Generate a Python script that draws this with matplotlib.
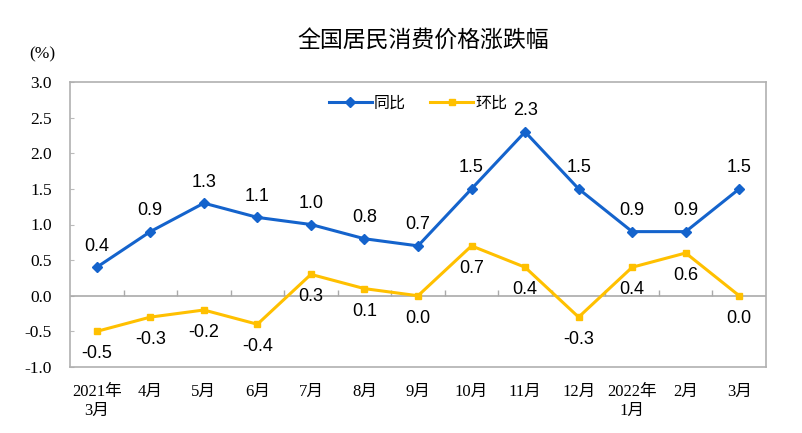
import matplotlib.pyplot as plt

plt.rcParams['font.family'] = ['Liberation Serif', 'Noto Sans CJK SC']

# dados
meses = ['2021年\n3月', '4月', '5月', '6月', '7月', '8月', '9月', '10月', '11月',
         '12月', '2022年\n1月', '2月', '3月']
tongbi = [0.4, 0.9, 1.3, 1.1, 1.0, 0.8, 0.7, 1.5, 2.3, 1.5, 0.9, 0.9, 1.5]
huanbi = [-0.5, -0.3, -0.2, -0.4, 0.3, 0.1, 0.0, 0.7, 0.4, -0.3, 0.4, 0.6, 0.0]

azul = '#1463cc'
amarelo = '#ffc000'

fig = plt.figure(figsize=(8.02, 4.33), dpi=100)
ax = fig.add_axes([70 / 802, 1 - 367 / 433, 696 / 802, 285 / 433])

x = list(range(len(meses)))
ax.plot(x, tongbi, color=azul, lw=2.2, marker='D', ms=5, label='同比', zorder=3)
ax.plot(x, huanbi, color=amarelo, lw=2.2, marker='s', ms=5, label='环比', zorder=3)

# rotulos dos pontos
for i, v in enumerate(tongbi):
    ax.annotate(f'{v:.1f}', (i, v), xytext=(0, 9), textcoords='offset points',
                ha='center', va='bottom', fontsize=13, family=['Liberation Sans'])
for i, v in enumerate(huanbi):
    ax.annotate(f'{v:.1f}', (i, v), xytext=(0, -10), textcoords='offset points',
                ha='center', va='top', fontsize=13, family=['Liberation Sans'])

ax.set_xlim(-0.5, len(meses) - 0.5)
ax.set_ylim(-1.0, 3.0)
ax.set_yticks([-1.0, -0.5, 0.0, 0.5, 1.0, 1.5, 2.0, 2.5, 3.0])
ax.set_yticklabels([f'{t:.1f}' for t in ax.get_yticks()], fontsize=12.5)
ax.set_xticks(x)
ax.set_xticklabels(meses, fontsize=12, linespacing=1.25, va='top')
ax.tick_params(axis='x', length=0, pad=12)
ax.tick_params(axis='y', direction='in', length=3, color='#bbbbbb', pad=13)
ax.axhline(0, color='#aaaaaa', lw=1.2)
for s in ax.spines.values():
    s.set_color('#b0b0b0')
    s.set_linewidth(1.2)

# eixo das categorias no zero, com marcas entre os meses
eixo0 = ax.secondary_xaxis(0.25)
eixo0.set_xticks([i + 0.5 for i in x[:-1]])
eixo0.set_xticklabels([])
eixo0.tick_params(direction='in', length=4, color='#aaaaaa', width=1)
eixo0.spines['bottom'].set_visible(False)

ax.legend(loc='upper center', bbox_to_anchor=(0.5, 1.005), ncol=2, frameon=False,
          handlelength=2.7, columnspacing=1.5, handletextpad=0.15,
          prop={'family': ['Noto Sans CJK SC'], 'size': 11.5})

fig.text(29 / 802, 1 - 54 / 433, '(%)', fontsize=12.5, ha='left', va='center')
fig.text(423 / 802, 1 - 40 / 433, '全国居民消费价格涨跌幅', fontsize=16.5, ha='center',
         va='center', family=['Noto Sans CJK SC'], weight='medium')

fig.savefig('out.png', dpi=100)
